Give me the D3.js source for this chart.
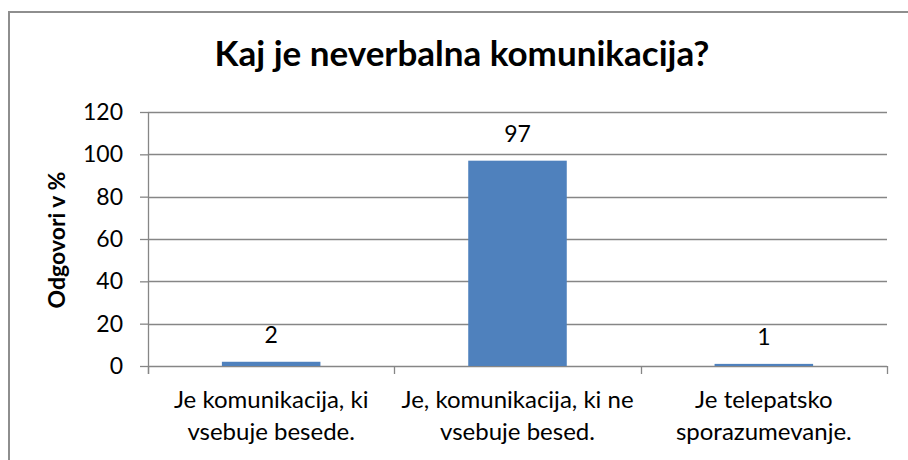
<!DOCTYPE html>
<html>
<head>
<meta charset="utf-8">
<script src="https://cdn.jsdelivr.net/npm/d3@7"></script>
<style>
  body { margin: 0; background: #fff; }
  svg { display: block; font-family: Lato, 'Open Sans', sans-serif; }
</style>
</head>
<body>
<div id="chart"></div>
<script>
// chart data
const title = 'Kaj je neverbalna komunikacija?';
const yLabel = 'Odgovori v %';
const categories = [
  'Je komunikacija, ki vsebuje besede.',
  'Je, komunikacija, ki ne vsebuje besed.',
  'Je telepatsko sporazumevanje.'
];
const values = [2, 97, 1];
const yTicks = [0, 20, 40, 60, 80, 100, 120];

// size of the page and the plot area
const width = 908;
const height = 460;
const margin = { top: 112, right: 21, bottom: 94, left: 148 };
const plotW = width - margin.left - margin.right;
const plotH = height - margin.top - margin.bottom;

const svg = d3.select('#chart')
  .append('svg')
    .attr('width', width)
    .attr('height', height);

// outer chart border (right and bottom edges fall outside the picture)
svg.append('rect')
  .attr('x', 9)
  .attr('y', 12)
  .attr('width', 920)
  .attr('height', 480)
  .attr('fill', 'none')
  .attr('stroke', '#8e8e8e')
  .attr('stroke-width', 2);

// title
svg.append('text')
  .attr('x', 462)
  .attr('y', 66)
  .attr('text-anchor', 'middle')
  .style('font-size', '35px')
  .style('font-weight', 'bold')
  .text(title);

const g = svg.append('g')
  .attr('transform', `translate(${margin.left},${margin.top})`);

// scales
const x = d3.scaleBand()
  .domain(categories)
  .range([0, plotW])
  .paddingInner(0.6)
  .paddingOuter(0.3);

const y = d3.scaleLinear()
  .domain([0, 120])
  .range([plotH, 0]);

// horizontal gridlines
g.selectAll('.grid')
  .data(yTicks)
  .join('line')
    .attr('class', 'grid')
    .attr('x1', 0)
    .attr('x2', plotW)
    .attr('y1', d => Math.round(y(d)) + 0.5)
    .attr('y2', d => Math.round(y(d)) + 0.5)
    .attr('stroke', '#868686')
    .attr('stroke-width', 1.3);

// y axis
const yAxis = g.append('g')
  .call(d3.axisLeft(y).tickValues(yTicks).tickSize(8).tickPadding(17));
yAxis.select('.domain').remove();
yAxis.selectAll('.tick line').attr('stroke', '#868686').attr('stroke-width', 1.3);
yAxis.selectAll('.tick text')
  .style('font-size', '23px')
  .style('font-family', 'Lato, sans-serif')
  .attr('fill', '#000');
g.append('line')
  .attr('x1', 0.5).attr('x2', 0.5)
  .attr('y1', 0).attr('y2', plotH + 8)
  .attr('stroke', '#868686')
  .attr('stroke-width', 1.3);

// category dividers on the x axis
const step = x.step();
g.selectAll('.xtick')
  .data(d3.range(categories.length + 1))
  .join('line')
    .attr('class', 'xtick')
    .attr('x1', i => Math.round(i * step) + 0.5)
    .attr('x2', i => Math.round(i * step) + 0.5)
    .attr('y1', plotH)
    .attr('y2', plotH + 8)
    .attr('stroke', '#868686')
    .attr('stroke-width', 1.3);

// bars
g.selectAll('.bar')
  .data(values)
  .join('rect')
    .attr('class', 'bar')
    .attr('x', (d, i) => x(categories[i]))
    .attr('y', d => y(d))
    .attr('width', x.bandwidth())
    .attr('height', d => plotH - y(d))
    .attr('fill', '#4f81bd');

// value labels
g.selectAll('.val')
  .data(values)
  .join('text')
    .attr('class', 'val')
    .attr('x', (d, i) => x(categories[i]) + x.bandwidth() / 2)
    .attr('y', d => y(d) - 19)
    .attr('text-anchor', 'middle')
    .style('font-size', '23px')
    .text(d => d);

// category labels, wrapped to the width of one category
const catText = g.selectAll('.cat')
  .data(categories)
  .join('text')
    .attr('class', 'cat')
    .attr('text-anchor', 'middle')
    .attr('x', d => x(d) + x.bandwidth() / 2)
    .attr('y', plotH + 42)
    .style('font-size', '24px');

catText.each(function (d) {
  const el = d3.select(this);
  const words = d.split(' ');
  const lines = [];
  let line = [];
  const probe = el.append('tspan');
  words.forEach(w => {
    line.push(w);
    probe.text(line.join(' '));
    if (probe.node().getComputedTextLength() > step + 6 && line.length > 1) {
      line.pop();
      lines.push(line.join(' '));
      line = [w];
    }
  });
  lines.push(line.join(' '));
  probe.remove();
  lines.forEach((l, i) => {
    el.append('tspan')
      .attr('x', el.attr('x'))
      .attr('dy', i === 0 ? 0 : 32)
      .text(l);
  });
});

// y axis title
svg.append('text')
  .attr('transform', 'translate(65,240) rotate(-90)')
  .attr('text-anchor', 'middle')
  .style('font-size', '23px')
  .style('font-weight', 'bold')
  .text(yLabel);
</script>
</body>
</html>
